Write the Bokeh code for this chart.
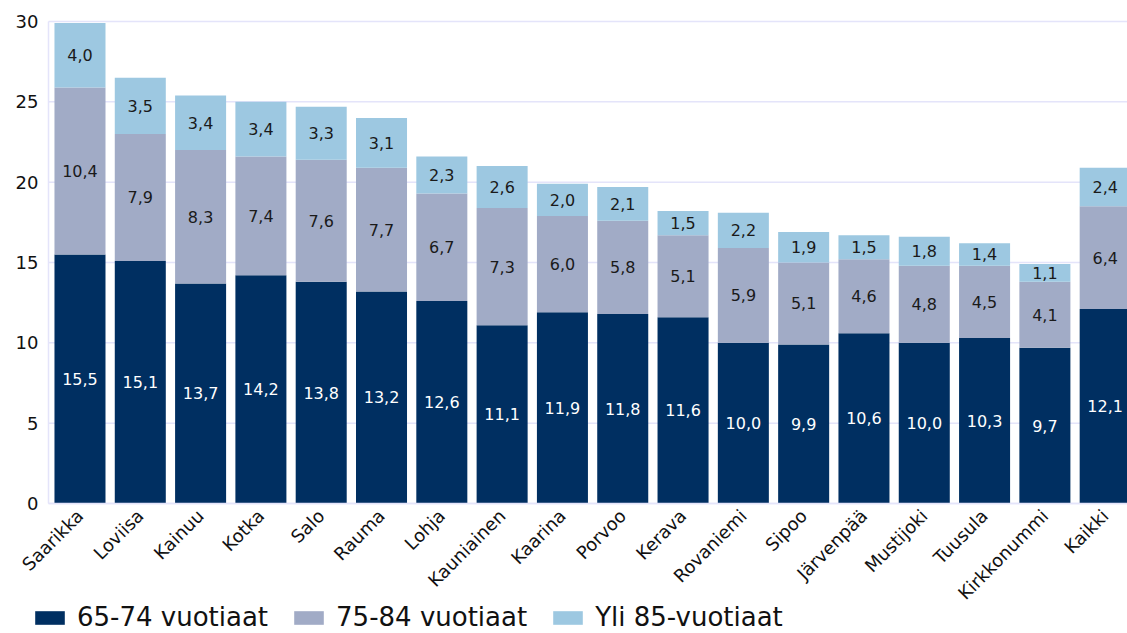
from bokeh.plotting import figure
from bokeh.models import Range1d, FixedTicker, Legend, LegendItem, ColumnDataSource
from bokeh.embed import file_html
from bokeh.resources import INLINE
from bokeh.core.properties import value
import math

categories = ["Saarikka", "Loviisa", "Kainuu", "Kotka", "Salo", "Rauma", "Lohja",
              "Kauniainen", "Kaarina", "Porvoo", "Kerava", "Rovaniemi", "Sipoo",
              "Järvenpää", "Mustijoki", "Tuusula", "Kirkkonummi", "Kaikki"]
s65_74 = [15.5, 15.1, 13.7, 14.2, 13.8, 13.2, 12.6, 11.1, 11.9, 11.8, 11.6, 10.0, 9.9, 10.6, 10.0, 10.3, 9.7, 12.1]
s75_84 = [10.4, 7.9, 8.3, 7.4, 7.6, 7.7, 6.7, 7.3, 6.0, 5.8, 5.1, 5.9, 5.1, 4.6, 4.8, 4.5, 4.1, 6.4]
s85 = [4.0, 3.5, 3.4, 3.4, 3.3, 3.1, 2.3, 2.6, 2.0, 2.1, 1.5, 2.2, 1.9, 1.5, 1.8, 1.4, 1.1, 2.4]
series_names = ["65-74 vuotiaat", "75-84 vuotiaat", "Yli 85-vuotiaat"]
yticks = [0, 5, 10, 15, 20, 25, 30]

colors = ["#002F61", "#A1ABC6", "#9DC8E1"]
FONT = "DejaVu Sans"
grid_col = "#E4E4FA"

# plot-area geometry in data units
X_LEFT, X_RIGHT = -0.522, 17.37

xs = list(range(len(categories)))
src = ColumnDataSource(dict(x=xs, a=s65_74, b=s75_84, c=s85))

p = figure(frame_width=1127, frame_height=633, output_backend="svg", toolbar_location=None,
           x_range=Range1d(-1.318, X_RIGHT), y_range=Range1d(-8.09, 31.307),
           min_border_left=0, min_border_top=0, min_border_right=0, min_border_bottom=0)
p.outline_line_color = None
p.background_fill_color = "white"

# horizontal gridlines over the plot area only
p.segment(x0=[X_LEFT] * len(yticks), x1=[X_RIGHT] * len(yticks), y0=yticks, y1=yticks,
          line_color=grid_col, line_width=1.5)

rs = p.vbar_stack(["a", "b", "c"], x="x", width=0.846, color=colors, source=src, line_color=None)

def fmt(v):
    return ("%.1f" % v).replace(".", ",")

lx, ly, lt, lc = [], [], [], []
for i in xs:
    base = 0
    for vals, col in ((s65_74, "white"), (s75_84, "#1a1a1a"), (s85, "#1a1a1a")):
        v = vals[i]
        lx.append(i); ly.append(base + v / 2); lt.append(fmt(v)); lc.append(col)
        base += v
p.text(x=lx, y=ly, text=lt, text_color=lc, text_align="center", text_baseline="middle",
       text_font=value(FONT), text_font_size="16px")

p.xaxis.fixed_location = 0
p.xaxis.bounds = (X_LEFT, X_RIGHT)
p.xaxis.ticker = FixedTicker(ticks=xs)
p.xaxis.major_label_overrides = {i: c for i, c in enumerate(categories)}
p.xaxis.major_label_orientation = math.pi / 4
p.xaxis.major_label_text_font = FONT
p.xaxis.major_label_text_font_size = "18px"
p.xaxis.major_label_text_color = "#111111"
p.xaxis.major_tick_line_color = None
p.xaxis.minor_tick_line_color = None
p.xaxis.axis_line_color = grid_col
p.xaxis.axis_line_width = 1.5
p.xaxis.major_label_standoff = 3

p.yaxis.fixed_location = X_LEFT
p.yaxis.bounds = (0, 30)
p.yaxis.ticker = FixedTicker(ticks=yticks)
p.yaxis.major_label_text_font = FONT
p.yaxis.major_label_text_font_size = "18px"
p.yaxis.major_label_text_color = "#111111"
p.yaxis.major_tick_line_color = None
p.yaxis.minor_tick_line_color = None
p.yaxis.axis_line_color = grid_col
p.yaxis.axis_line_width = 1.5
p.yaxis.major_label_standoff = 4

p.xgrid.grid_line_color = None
p.ygrid.grid_line_color = None

legend = Legend(items=[LegendItem(label=n, renderers=[r]) for n, r in zip(series_names, rs)],
                orientation="horizontal", location=(31, 1),
                label_text_font=FONT, label_text_font_size="26px", label_text_color="#111111",
                glyph_width=37, glyph_height=17, spacing=22, padding=0, margin=0,
                label_standoff=9, border_line_color=None, background_fill_alpha=0)
p.add_layout(legend, "center")

open("out.html", "w").write(file_html(p, INLINE))
